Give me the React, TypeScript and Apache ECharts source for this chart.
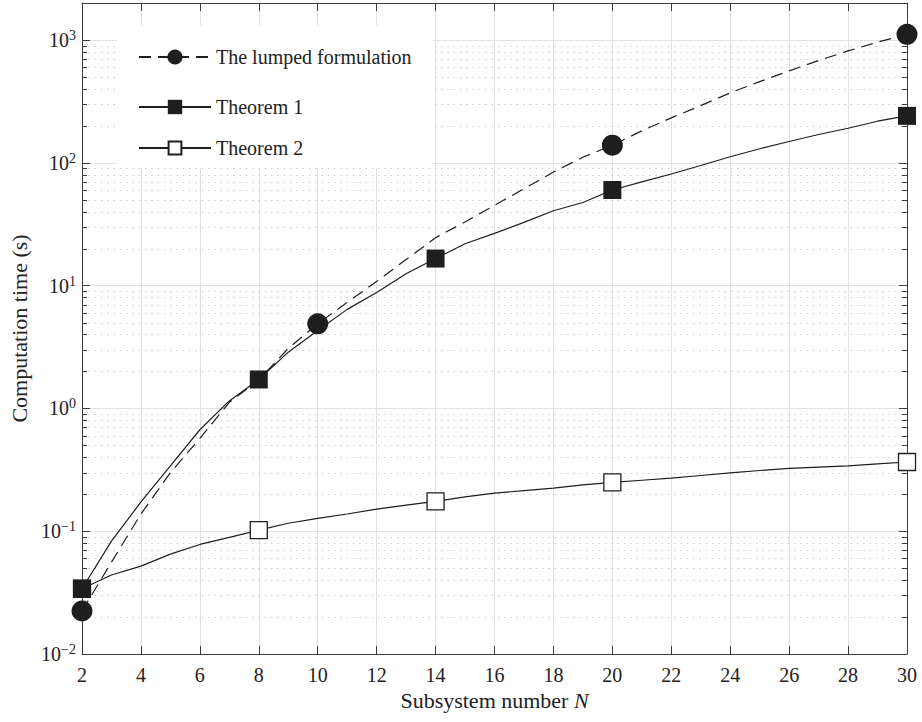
import React, { useEffect, useRef } from "react";
import * as echarts from "echarts";

// ---- data ----
const xValues = [2, 3, 4, 5, 6, 7, 8, 9, 10, 11, 12, 13, 14, 15, 16, 17, 18, 19, 20, 21, 22, 23, 24, 25, 26, 27, 28, 29, 30];
const lumpedTimes = [0.0224, 0.056, 0.138, 0.3, 0.57, 1.12, 1.7, 3.08, 4.88, 7.3, 10.8, 16.3, 24.5, 33, 45, 61.5, 84, 111, 139, 182, 232, 292, 371, 458, 560, 680, 815, 960, 1112];
const theorem1Times = [0.034, 0.083, 0.173, 0.34, 0.67, 1.15, 1.72, 2.87, 4.3, 6.4, 8.8, 12.5, 16.6, 21.9, 26.6, 32.7, 40.7, 47.5, 60, 70, 81, 95, 112, 130, 149, 170, 191, 218, 241];
const theorem2Times = [0.034, 0.044, 0.052, 0.065, 0.078, 0.089, 0.102, 0.116, 0.127, 0.138, 0.151, 0.163, 0.175, 0.19, 0.204, 0.214, 0.224, 0.238, 0.25, 0.26, 0.27, 0.284, 0.298, 0.312, 0.325, 0.333, 0.34, 0.353, 0.366];
const lumpedMarkerX = [2, 10, 20, 30];
const theoremMarkerX = [2, 8, 14, 20, 30];
const seriesNames = ["The lumped formulation", "Theorem 1", "Theorem 2"];
const decadeExponents = [-2, -1, 0, 1, 2];
const minorMultipliers = [2, 3, 4, 5, 6, 7, 8, 9];

const FONT = "Liberation Serif";
const INK = "#1e1e1e";
const AXIS = "#3c3c3c";

function buildData(values: number[], markers: number[]) {
  return xValues.map((x, i) =>
    markers.includes(x) ? [x, values[i]] : { value: [x, values[i]], symbol: "none" }
  );
}

const minorValues: number[][] = [];
decadeExponents.forEach((e) => {
  minorMultipliers.forEach((m) => minorValues.push([2, m * Math.pow(10, e)]));
});

function supLabel(v: number) {
  const e = Math.round(Math.log10(v));
  const s = e < 0 ? "\u2212" + -e : String(e);
  return "{b|10}{e|" + s + "}";
}

export default function App() {
  const ref = useRef<HTMLDivElement>(null);
  useEffect(() => {
    document.body.style.margin = "0";
    const chart = echarts.init(ref.current!, null, { renderer: "svg" });
    const xAxisCommon = {
      type: "value",
      min: 2,
      max: 30,
      interval: 2,
      axisLine: { show: true, onZero: false, lineStyle: { color: AXIS, width: 1 } },
      axisTick: { show: true, inside: true, length: 8, lineStyle: { color: AXIS, width: 1 } },
    };
    const yAxisCommon = {
      type: "log",
      logBase: 10,
      min: 0.01,
      max: 2000,
      axisLine: { show: true, onZero: false, lineStyle: { color: AXIS, width: 1 } },
      axisTick: { show: true, inside: true, length: 8, lineStyle: { color: AXIS, width: 1 } },
    };
    const legendText = { fontSize: 20, color: "#222", fontFamily: FONT };
    const option: any = {
      animation: false,
      backgroundColor: "#fff",
      textStyle: { fontFamily: FONT },
      grid: { left: 82, right: 15, top: 3, bottom: 68, containLabel: false },
      xAxis: [
        {
          ...xAxisCommon,
          position: "bottom",
          axisLabel: { margin: 11, fontSize: 20, color: "#222", fontFamily: FONT },
          splitLine: { show: true, lineStyle: { color: "#e2e2e2", width: 1 } },
          name: "Subsystem number {i|N}",
          nameLocation: "middle",
          nameGap: 32,
          nameTextStyle: {
            fontSize: 22,
            color: "#222",
            fontFamily: FONT,
            rich: { i: { fontStyle: "italic", fontSize: 22, color: "#222", fontFamily: FONT } },
          },
        },
        {
          ...xAxisCommon,
          position: "top",
          axisLabel: { show: false },
          splitLine: { show: false },
        },
      ],
      yAxis: [
        {
          ...yAxisCommon,
          position: "left",
          axisLabel: {
            margin: 6,
            showMaxLabel: false,
            formatter: supLabel,
            rich: {
              b: { fontSize: 20, color: "#222", fontFamily: FONT },
              e: { fontSize: 14, color: "#222", fontFamily: FONT, padding: [0, 0, 9, 0] },
            },
          },
          splitLine: { show: true, lineStyle: { color: "#e2e2e2", width: 1 } },
          name: "Computation time (s)",
          nameLocation: "middle",
          nameGap: 51,
          nameRotate: 90,
          nameTextStyle: { fontSize: 22, color: "#222", fontFamily: FONT },
        },
        {
          ...yAxisCommon,
          position: "right",
          axisLabel: { show: false },
          splitLine: { show: false },
        },
      ],
      graphic: [
        {
          type: "rect",
          left: 117,
          top: 26,
          z: 3,
          shape: { width: 316, height: 142 },
          style: { fill: "#fff" },
          silent: true,
        },
      ],
      legend: [
        {
          data: [seriesNames[0]],
          left: 138,
          top: 47,
          padding: 0,
          itemWidth: 72,
          itemHeight: 19,
          z: 10,
          textStyle: legendText,
        },
        {
          data: [seriesNames[1]],
          left: 138,
          top: 97,
          padding: 0,
          itemWidth: 72,
          itemHeight: 18,
          z: 10,
          textStyle: legendText,
        },
        {
          data: [seriesNames[2]],
          left: 138,
          top: 138,
          padding: 0,
          itemWidth: 72,
          itemHeight: 16,
          z: 10,
          textStyle: legendText,
        },
      ],
      series: [
        {
          type: "custom",
          silent: true,
          z: 1,
          xAxisIndex: 0,
          yAxisIndex: 0,
          dimensions: ["x", "y"],
          encode: { x: 0, y: 1 },
          data: minorValues,
          renderItem: (params: any, api: any) => {
            const cs = params.coordSys;
            const y = Math.round(api.coord([2, api.value(1)])[1]) + 0.5;
            const x0 = cs.x;
            const x1 = cs.x + cs.width;
            return {
              type: "group",
              children: [
                {
                  type: "line",
                  shape: { x1: x0, y1: y, x2: x1, y2: y },
                  style: { stroke: "#cbcbcb", lineWidth: 1, lineDash: [1.5, 4.8] },
                },
                {
                  type: "line",
                  shape: { x1: x0, y1: y, x2: x0 + 5, y2: y },
                  style: { stroke: AXIS, lineWidth: 1 },
                },
                {
                  type: "line",
                  shape: { x1: x1 - 5, y1: y, x2: x1, y2: y },
                  style: { stroke: AXIS, lineWidth: 1 },
                },
              ],
            };
          },
        },
        {
          name: seriesNames[2],
          type: "line",
          z: 2,
          data: buildData(theorem2Times, theoremMarkerX),
          symbol: "rect",
          symbolSize: 17,
          lineStyle: { color: INK, width: 1.2, type: "solid" },
          itemStyle: { color: "#fff", borderColor: INK, borderWidth: 1.3 },
          emphasis: { disabled: true },
        },
        {
          name: seriesNames[0],
          type: "line",
          z: 3,
          data: buildData(lumpedTimes, lumpedMarkerX),
          symbol: "circle",
          symbolSize: 21,
          lineStyle: { color: INK, width: 1.2, type: [12, 7] },
          itemStyle: { color: INK, borderWidth: 0 },
          emphasis: { disabled: true },
        },
        {
          name: seriesNames[1],
          type: "line",
          z: 4,
          data: buildData(theorem1Times, theoremMarkerX),
          symbol: "rect",
          symbolSize: 18,
          lineStyle: { color: INK, width: 1.2, type: "solid" },
          itemStyle: { color: INK, borderWidth: 0 },
          emphasis: { disabled: true },
        },
      ],
    };
    chart.setOption(option);
    return () => chart.dispose();
  }, []);
  return <div ref={ref} style={{ width: 922, height: 722 }} />;
}
